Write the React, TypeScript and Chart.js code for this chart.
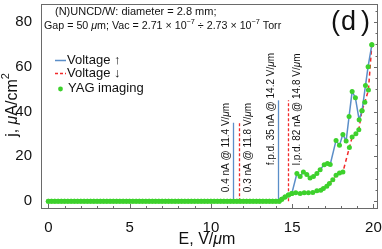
import React, { useEffect, useRef } from "react";
import { Chart, registerables } from "chart.js";

Chart.register(...registerables);

// ---------- data ----------
const eBase = [0, 0.2, 0.4, 0.6, 0.8, 1, 1.2, 1.4, 1.6, 1.8, 2, 2.2, 2.4, 2.6, 2.8, 3, 3.2, 3.4, 3.6, 3.8, 4, 4.2, 4.4, 4.6, 4.8, 5, 5.2, 5.4, 5.6, 5.8, 6, 6.2, 6.4, 6.6, 6.8, 7, 7.2, 7.4, 7.6, 7.8, 8, 8.2, 8.4, 8.6, 8.8, 9, 9.2, 9.4, 9.6, 9.8, 10, 10.2, 10.4, 10.6, 10.8, 11, 11.2, 11.4, 11.6, 11.8, 12, 12.2, 12.4, 12.6, 12.8, 13, 13.2, 13.4, 13.6, 13.8, 14, 14.2];
const jBase = [0, 0, 0, 0, 0, 0, 0, 0, 0, 0, 0, 0, 0, 0, 0, 0, 0, 0, 0, 0, 0, 0, 0, 0, 0, 0, 0, 0, 0, 0, 0, 0, 0, 0, 0, 0, 0, 0, 0, 0, 0, 0, 0, 0, 0, 0, 0, 0, 0, 0, 0, 0, 0, 0, 0, 0, 0, 0, 0, 0, 0, 0, 0, 0, 0, 0, 0, 0, 0, 0, 0, 0];

const eUpTail = [14.36, 14.56, 14.77, 14.98, 15.29, 15.49, 15.69, 15.9, 16.1, 16.31, 16.52, 16.72, 16.97, 17.17, 17.34, 17.7, 17.91, 18.12, 18.32, 18.5, 18.69, 18.89, 19.12, 19.3, 19.51, 19.67, 19.9];
const jUpTail = [0.8, 1.9, 2.7, 3.4, 12.3, 11.0, 13.0, 11.9, 10.3, 11.0, 12.3, 14.0, 16.3, 16.8, 16.4, 27.1, 24.9, 29.8, 26.8, 37.8, 49.0, 46.1, 36.3, 40.4, 51.6, 60.0, 69.8];

const eDownTail = [14.36, 14.56, 14.77, 14.98, 15.22, 15.49, 15.74, 16.0, 16.27, 16.52, 16.76, 16.92, 17.13, 17.29, 17.5, 17.7, 17.91, 18.12, 18.52, 18.69, 18.92, 19.1, 19.29, 19.47, 19.69, 19.9];
const jDownTail = [0.8, 1.9, 2.7, 3.4, 3.7, 3.4, 3.7, 3.7, 3.9, 4.6, 4.9, 5.6, 6.7, 7.9, 9.6, 11.6, 12.6, 13.0, 23.9, 28.6, 30.1, 31.9, 40.4, 44.1, 49.6, 69.8];

const markerE = [11.35, 11.7, 14.13, 14.72];
const markerTop = [35, 35, 45, 45];
const markerUp = [true, false, true, false];
const markerLabels = [
  "0.4 nA @ 11.4 V/μm",
  "0.3 nA @ 11.8 V/μm",
  "f.p.d. 35 nA @ 14.2 V/μm",
  "l.p.d. 82 nA @ 14.8 V/μm",
];

const xTicks = [0, 5, 10, 15, 20];
const yTicks = [0, 20, 40, 60, 80];

const legendLabels = ["Voltage ↑", "Voltage ↓", "YAG imaging"];
const titleLine1 = "(N)UNCD/W: diameter = 2.8 mm;";
const panelLabel = "d";

// ---------- style ----------
const BLUE = "#5b8ec8";
const RED = "#f22a2a";
const GREEN = "#3dd12c";
const FRAME = "#6a6a6a";
const F = '"Liberation Sans", Arial, sans-serif';

type Seg = { t: string; it?: boolean; sup?: boolean };

function splitMu(s: string): Seg[] {
  const out: Seg[] = [];
  const parts = s.split("μ");
  parts.forEach((p, i) => {
    if (i > 0) out.push({ t: "μ", it: true });
    if (p) out.push({ t: p });
  });
  return out;
}

function segFont(seg: Seg, size: number) {
  const sz = seg.sup ? size * 0.68 : size;
  return `${seg.it ? "italic " : ""}${sz}px ${F}`;
}

function drawRich(ctx: CanvasRenderingContext2D, segs: Seg[], x: number, y: number, size: number, align: "left" | "center" = "left") {
  ctx.textBaseline = "middle";
  ctx.textAlign = "left";
  let w = 0;
  const widths = segs.map((s) => {
    ctx.font = segFont(s, size);
    const m = ctx.measureText(s.t).width;
    w += m;
    return m;
  });
  let cx = align === "center" ? x - w / 2 : x;
  segs.forEach((s, i) => {
    ctx.font = segFont(s, size);
    ctx.fillText(s.t, cx, s.sup ? y - size * 0.38 : y);
    cx += widths[i];
  });
}

const plugin = {
  id: "decor",
  beforeDatasetsDraw(chart: any) {
    const { ctx, scales } = chart;
    const x = scales.x;
    const y = scales.y;
    markerE.forEach((e, i) => {
      const px = Math.round(x.getPixelForValue(e)) + 0.5;
      const py0 = y.getPixelForValue(0);
      const py1 = y.getPixelForValue(markerTop[i]);
      ctx.save();
      ctx.strokeStyle = markerUp[i] ? BLUE : RED;
      ctx.lineWidth = 1.3;
      ctx.setLineDash(markerUp[i] ? [] : [3, 2]);
      ctx.beginPath();
      ctx.moveTo(px, py0);
      ctx.lineTo(px, py1);
      ctx.stroke();
      ctx.restore();
      const lx = px + (markerUp[i] ? -7.5 : 8.5);
      const ly = y.getPixelForValue(i < 2 ? 4 : 16);
      ctx.save();
      ctx.fillStyle = "#111";
      ctx.translate(lx, ly);
      ctx.rotate(-Math.PI / 2);
      drawRich(ctx, splitMu(markerLabels[i]), 0, 0, 10);
      ctx.restore();
    });
  },
  afterDraw(chart: any) {
    const { ctx, chartArea: a, scales } = chart;
    const x = scales.x;
    const y = scales.y;
    ctx.save();
    ctx.strokeStyle = FRAME;
    ctx.lineWidth = 1;
    ctx.strokeRect(Math.round(a.left) + 0.5, Math.round(a.top) + 0.5, Math.round(a.right - a.left) - 1, Math.round(a.bottom - a.top) - 1);
    ctx.beginPath();
    for (let v = 0; v <= 20; v += 1) {
      const px = Math.round(x.getPixelForValue(v)) + 0.5;
      const len = v % 5 === 0 ? 5 : 3;
      ctx.moveTo(px, a.bottom);
      ctx.lineTo(px, a.bottom - len);
    }
    for (let v = 0; v <= 85; v += 5) {
      const py = Math.round(y.getPixelForValue(v)) + 0.5;
      const len = v % 20 === 0 ? 4 : 2.5;
      ctx.moveTo(a.right, py);
      ctx.lineTo(a.right - len, py);
    }
    ctx.stroke();

    ctx.fillStyle = "#111";
    drawRich(ctx, [{ t: titleLine1 }], 55, 12, 11);
    drawRich(
      ctx,
      [
        { t: "Gap = 50 " },
        { t: "μ", it: true },
        { t: "m; Vac = 2.71 × 10" },
        { t: "−7", sup: true },
        { t: " ÷ 2.73 × 10" },
        { t: "−7", sup: true },
        { t: " Torr" },
      ],
      44,
      26,
      10.7
    );
    ctx.font = `27px ${F}`;
    ctx.textBaseline = "alphabetic";
    ctx.textAlign = "left";
    ctx.fillText("(", 331, 30);
    ctx.fillText(panelLabel, 341, 30);
    ctx.fillText(")", 361, 30);

    ctx.lineWidth = 1.5;
    ctx.strokeStyle = BLUE;
    ctx.setLineDash([]);
    ctx.beginPath();
    ctx.moveTo(55, 60.5);
    ctx.lineTo(66, 60.5);
    ctx.stroke();
    ctx.strokeStyle = RED;
    ctx.setLineDash([3, 2]);
    ctx.beginPath();
    ctx.moveTo(55, 73.5);
    ctx.lineTo(66, 73.5);
    ctx.stroke();
    ctx.setLineDash([]);
    ctx.fillStyle = GREEN;
    ctx.beginPath();
    ctx.arc(60.5, 89, 2.4, 0, Math.PI * 2);
    ctx.fill();
    ctx.fillStyle = "#111";
    drawRich(ctx, [{ t: legendLabels[0] }], 67, 60, 13);
    drawRich(ctx, [{ t: legendLabels[1] }], 67, 73, 13);
    drawRich(ctx, [{ t: legendLabels[2] }], 68, 88, 13);

    drawRich(ctx, [{ t: "E, V/" }, { t: "μ", it: true }, { t: "m" }], 207, 240, 16, "center");
    ctx.save();
    ctx.translate(12.5, 105);
    ctx.rotate(-Math.PI / 2);
    drawRich(ctx, [{ t: "j, " }, { t: "μ", it: true }, { t: "A/cm" }, { t: "2", sup: true }], 0, 0, 16, "center");
    ctx.restore();
    ctx.restore();
  },
};

export default function App() {
  const ref = useRef<HTMLCanvasElement | null>(null);
  useEffect(() => {
    if (!ref.current) return;
    const jUp = jBase.concat(jUpTail);
    const jDown = jBase.concat(jDownTail);
    const upPts = eBase.concat(eUpTail).map((e, i) => ({ x: e, y: jUp[i] }));
    const downPts = eBase.concat(eDownTail).map((e, i) => ({ x: e, y: jDown[i] }));
    const chart = new Chart(ref.current, {
      type: "scatter",
      data: {
        datasets: [
          { label: "YAG up", data: upPts, showLine: false, pointRadius: 2.5, pointBackgroundColor: GREEN, pointBorderWidth: 0, pointBorderColor: GREEN },
          { label: "YAG down", data: downPts, showLine: false, pointRadius: 2.5, pointBackgroundColor: GREEN, pointBorderWidth: 0, pointBorderColor: GREEN },
          { label: "Voltage ↑", data: upPts, showLine: true, borderColor: BLUE, borderWidth: 1.5, pointRadius: 0, tension: 0 },
          { label: "Voltage ↓", data: downPts, showLine: true, borderColor: RED, borderWidth: 1.5, borderDash: [4, 3], pointRadius: 0, tension: 0 },
        ],
      },
      options: {
        animation: false,
        responsive: false,
        layout: { padding: { top: 3, right: 4, left: 0, bottom: 0 } },
        plugins: { legend: { display: false }, tooltip: { enabled: false } },
        scales: {
          x: {
            type: "linear",
            min: -0.45,
            max: 20.28,
            grid: { display: false },
            border: { display: false },
            afterBuildTicks: (s: any) => {
              s.ticks = xTicks.map((v) => ({ value: v }));
            },
            afterFit: (s: any) => {
              s.height = 40;
              s.paddingLeft = 0;
              s.paddingRight = 0;
            },
            ticks: { color: "#111", font: { size: 15, family: F }, padding: 2, maxRotation: 0, autoSkip: false },
          },
          y: {
            type: "linear",
            min: -3.5,
            max: 88,
            grid: { display: false },
            border: { display: false },
            afterBuildTicks: (s: any) => {
              s.ticks = yTicks.map((v) => ({ value: v }));
            },
            afterFit: (s: any) => {
              s.width = 41;
              s.paddingTop = 0;
              s.paddingBottom = 0;
            },
            ticks: { color: "#111", font: { size: 15, family: F }, padding: 1, autoSkip: false },
          },
        },
      },
      plugins: [plugin],
    });
    return () => chart.destroy();
  }, []);
  return (
    <div style={{ position: "absolute", left: 0, top: 0, width: 382, height: 249, background: "#fff" }}>
      <canvas ref={ref} width={382} height={249} />
    </div>
  );
}
